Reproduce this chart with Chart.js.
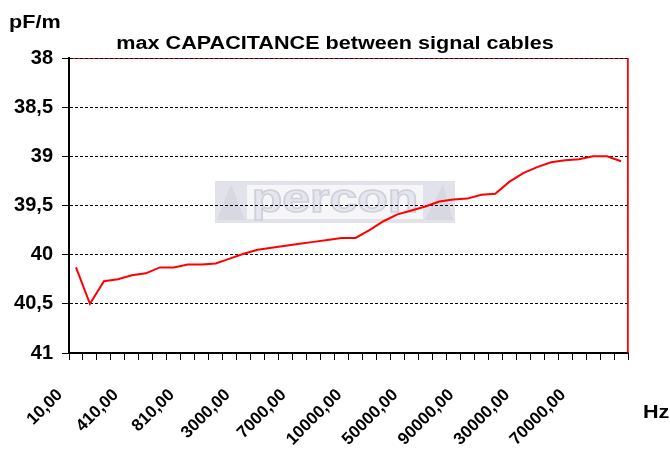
<!DOCTYPE html>
<html>
<head>
<meta charset="utf-8">
<script src="https://cdn.jsdelivr.net/npm/chart.js@4/dist/chart.umd.min.js"></script>
<style>
	html, body { margin: 0; padding: 0; background: #fff; }
	#wrap { width: 670px; height: 463px; }
</style>
</head>
<body>
<div id="wrap"><canvas id="cap-chart" width="670" height="463"></canvas></div>
<script>
// frequency categories (Hz), only every 4th one is labelled on the axis
const categories = [
	'10,00', '110,00', '210,00', '310,00', '410,00', '510,00', '610,00', '710,00',
	'810,00', '910,00', '1000,00', '2000,00', '3000,00', '4000,00', '5000,00', '6000,00',
	'7000,00', '8000,00', '9000,00', '9500,00', '10000,00', '20000,00', '30000,00', '40000,00',
	'50000,00', '60000,00', '70000,00', '80000,00', '90000,00', '10000,00', '15000,00', '20000,00',
	'30000,00', '40000,00', '50000,00', '60000,00', '70000,00', '80000,00', '90000,00', '100000,00'
];

// max capacitance (pF/m)
const capacitance = [
	40.13, 40.50, 40.27, 40.25, 40.21, 40.19, 40.13, 40.13,
	40.10, 40.10, 40.09, 40.04, 39.99, 39.95, 39.93, 39.91,
	39.89, 39.87, 39.85, 39.83, 39.83, 39.75, 39.66, 39.59,
	39.55, 39.51, 39.46, 39.44, 39.43, 39.39, 39.38, 39.26,
	39.17, 39.11, 39.06, 39.04, 39.03, 39.00, 39.00, 39.05
];

const yMin = 38;
const yMax = 41;
const yStep = 0.5;
const labelEvery = 4;

const FONT = '"Liberation Sans", Arial, sans-serif';

// the original text is a bit stretched sideways
function wideText(ctx, text, x, y, align) {
	const sx = 1.2;
	ctx.save();
	ctx.translate(x, y);
	ctx.scale(sx, 1);
	ctx.textAlign = align;
	ctx.fillText(text, 0, 0);
	ctx.restore();
}

// background, watermark and red frame drawn behind the grid
const framePlugin = {
	id: 'frame',
	beforeDraw(chart) {
		const { ctx, chartArea: a } = chart;
		ctx.save();
		ctx.fillStyle = '#fff';
		ctx.fillRect(0, 0, chart.width, chart.height);

		// faint "percon" logo
		const lx = 215, ly = 181, lw = 240, lh = 42;
		ctx.fillStyle = '#e2e2ea';
		ctx.fillRect(lx, ly, lw, lh);
		ctx.fillStyle = '#f6f6f9';
		ctx.fillRect(lx + 32, ly + 4, lw - 64, lh - 8);
		ctx.fillStyle = '#d8d8e2';
		ctx.beginPath();
		ctx.moveTo(lx + 2, ly + lh - 3);
		ctx.lineTo(lx + 16, ly + 3);
		ctx.lineTo(lx + 30, ly + lh - 3);
		ctx.closePath();
		ctx.fill();
		ctx.beginPath();
		ctx.moveTo(lx + lw - 30, ly + lh - 3);
		ctx.lineTo(lx + lw - 12, ly + 3);
		ctx.lineTo(lx + lw - 2, ly + lh - 3);
		ctx.closePath();
		ctx.fill();
		ctx.font = 'bold 40px ' + FONT;
		ctx.textBaseline = 'alphabetic';
		ctx.fillStyle = '#e6e6ee';
		ctx.strokeStyle = '#cfd0da';
		ctx.lineWidth = 1.5;
		ctx.save();
		ctx.translate(lx + lw / 2, ly + 31);
		ctx.scale(1.25, 1);
		ctx.textAlign = 'center';
		ctx.fillText('percon', 0, 0);
		ctx.strokeText('percon', 0, 0);
		ctx.restore();

		ctx.strokeStyle = '#ff0000';
		ctx.lineWidth = 1;
		ctx.strokeRect(a.left + 0.5, a.top + 0.5, a.right - a.left - 1, a.bottom - a.top);
		ctx.restore();
	},
	afterDraw(chart) {
		const { ctx, chartArea: a } = chart;
		ctx.save();
		ctx.strokeStyle = '#ff0000';
		ctx.lineWidth = 1.5;
		ctx.beginPath();
		ctx.moveTo(a.right, a.top);
		ctx.lineTo(a.right, a.bottom);
		ctx.stroke();

		ctx.fillStyle = '#000';
		ctx.font = 'bold 18px ' + FONT;
		ctx.textBaseline = 'alphabetic';
		wideText(ctx, 'pF/m', 9, 28, 'left');
		wideText(ctx, 'Hz', 643, 418, 'left');
		wideText(ctx, 'max CAPACITANCE between signal cables', 335, 49, 'center');
		ctx.restore();
	}
};

const ctx = document.getElementById('cap-chart');

new Chart(ctx, {
	type: 'line',
	data: {
		labels: categories,
		datasets: [
			{
				data: capacitance,
				borderColor: '#ff0000',
				borderWidth: 2,
				pointRadius: 0,
				tension: 0,
				fill: false,
			},
		],
	},
	options: {
		responsive: false,
		animation: false,
		layout: {
			padding: { left: 0, top: 58, right: 42, bottom: 0 },
		},
		plugins: {
			legend: { display: false },
			tooltip: { enabled: false },
			title: { display: false },
		},
		scales: {
			x: {
				type: 'category',
				offset: true,
				grid: {
					offset: true,
					drawOnChartArea: false,
					drawTicks: true,
					tickLength: 7,
					color: '#000',
					lineWidth: 1,
				},
				border: { color: '#000', width: 2 },
				ticks: {
					autoSkip: false,
					minRotation: 45,
					maxRotation: 45,
					padding: 25,
					labelOffset: -16,
					color: '#000',
					font: { family: FONT, size: 17, weight: 'bold' },
					callback: (val, idx) => (idx % labelEvery === 0 ? categories[idx] : ''),
				},
				afterFit: (scale) => { scale.height = 463 - 353; },
			},
			y: {
				reverse: true,
				min: yMin,
				max: yMax,
				grid: {
					color: '#000',
					lineWidth: 1,
					tickLength: 7,
					tickBorderDash: [],
				},
				border: { color: '#000', width: 2, dash: [3, 2] },
				ticks: {
					stepSize: yStep,
					padding: 9,
					color: '#000',
					font: { family: FONT, size: 20, weight: 'bold' },
					callback: (v) => String(v).replace('.', ','),
				},
				afterFit: (scale) => { scale.width = 69; },
			},
		},
	},
	plugins: [framePlugin],
});
</script>
</body>
</html>
